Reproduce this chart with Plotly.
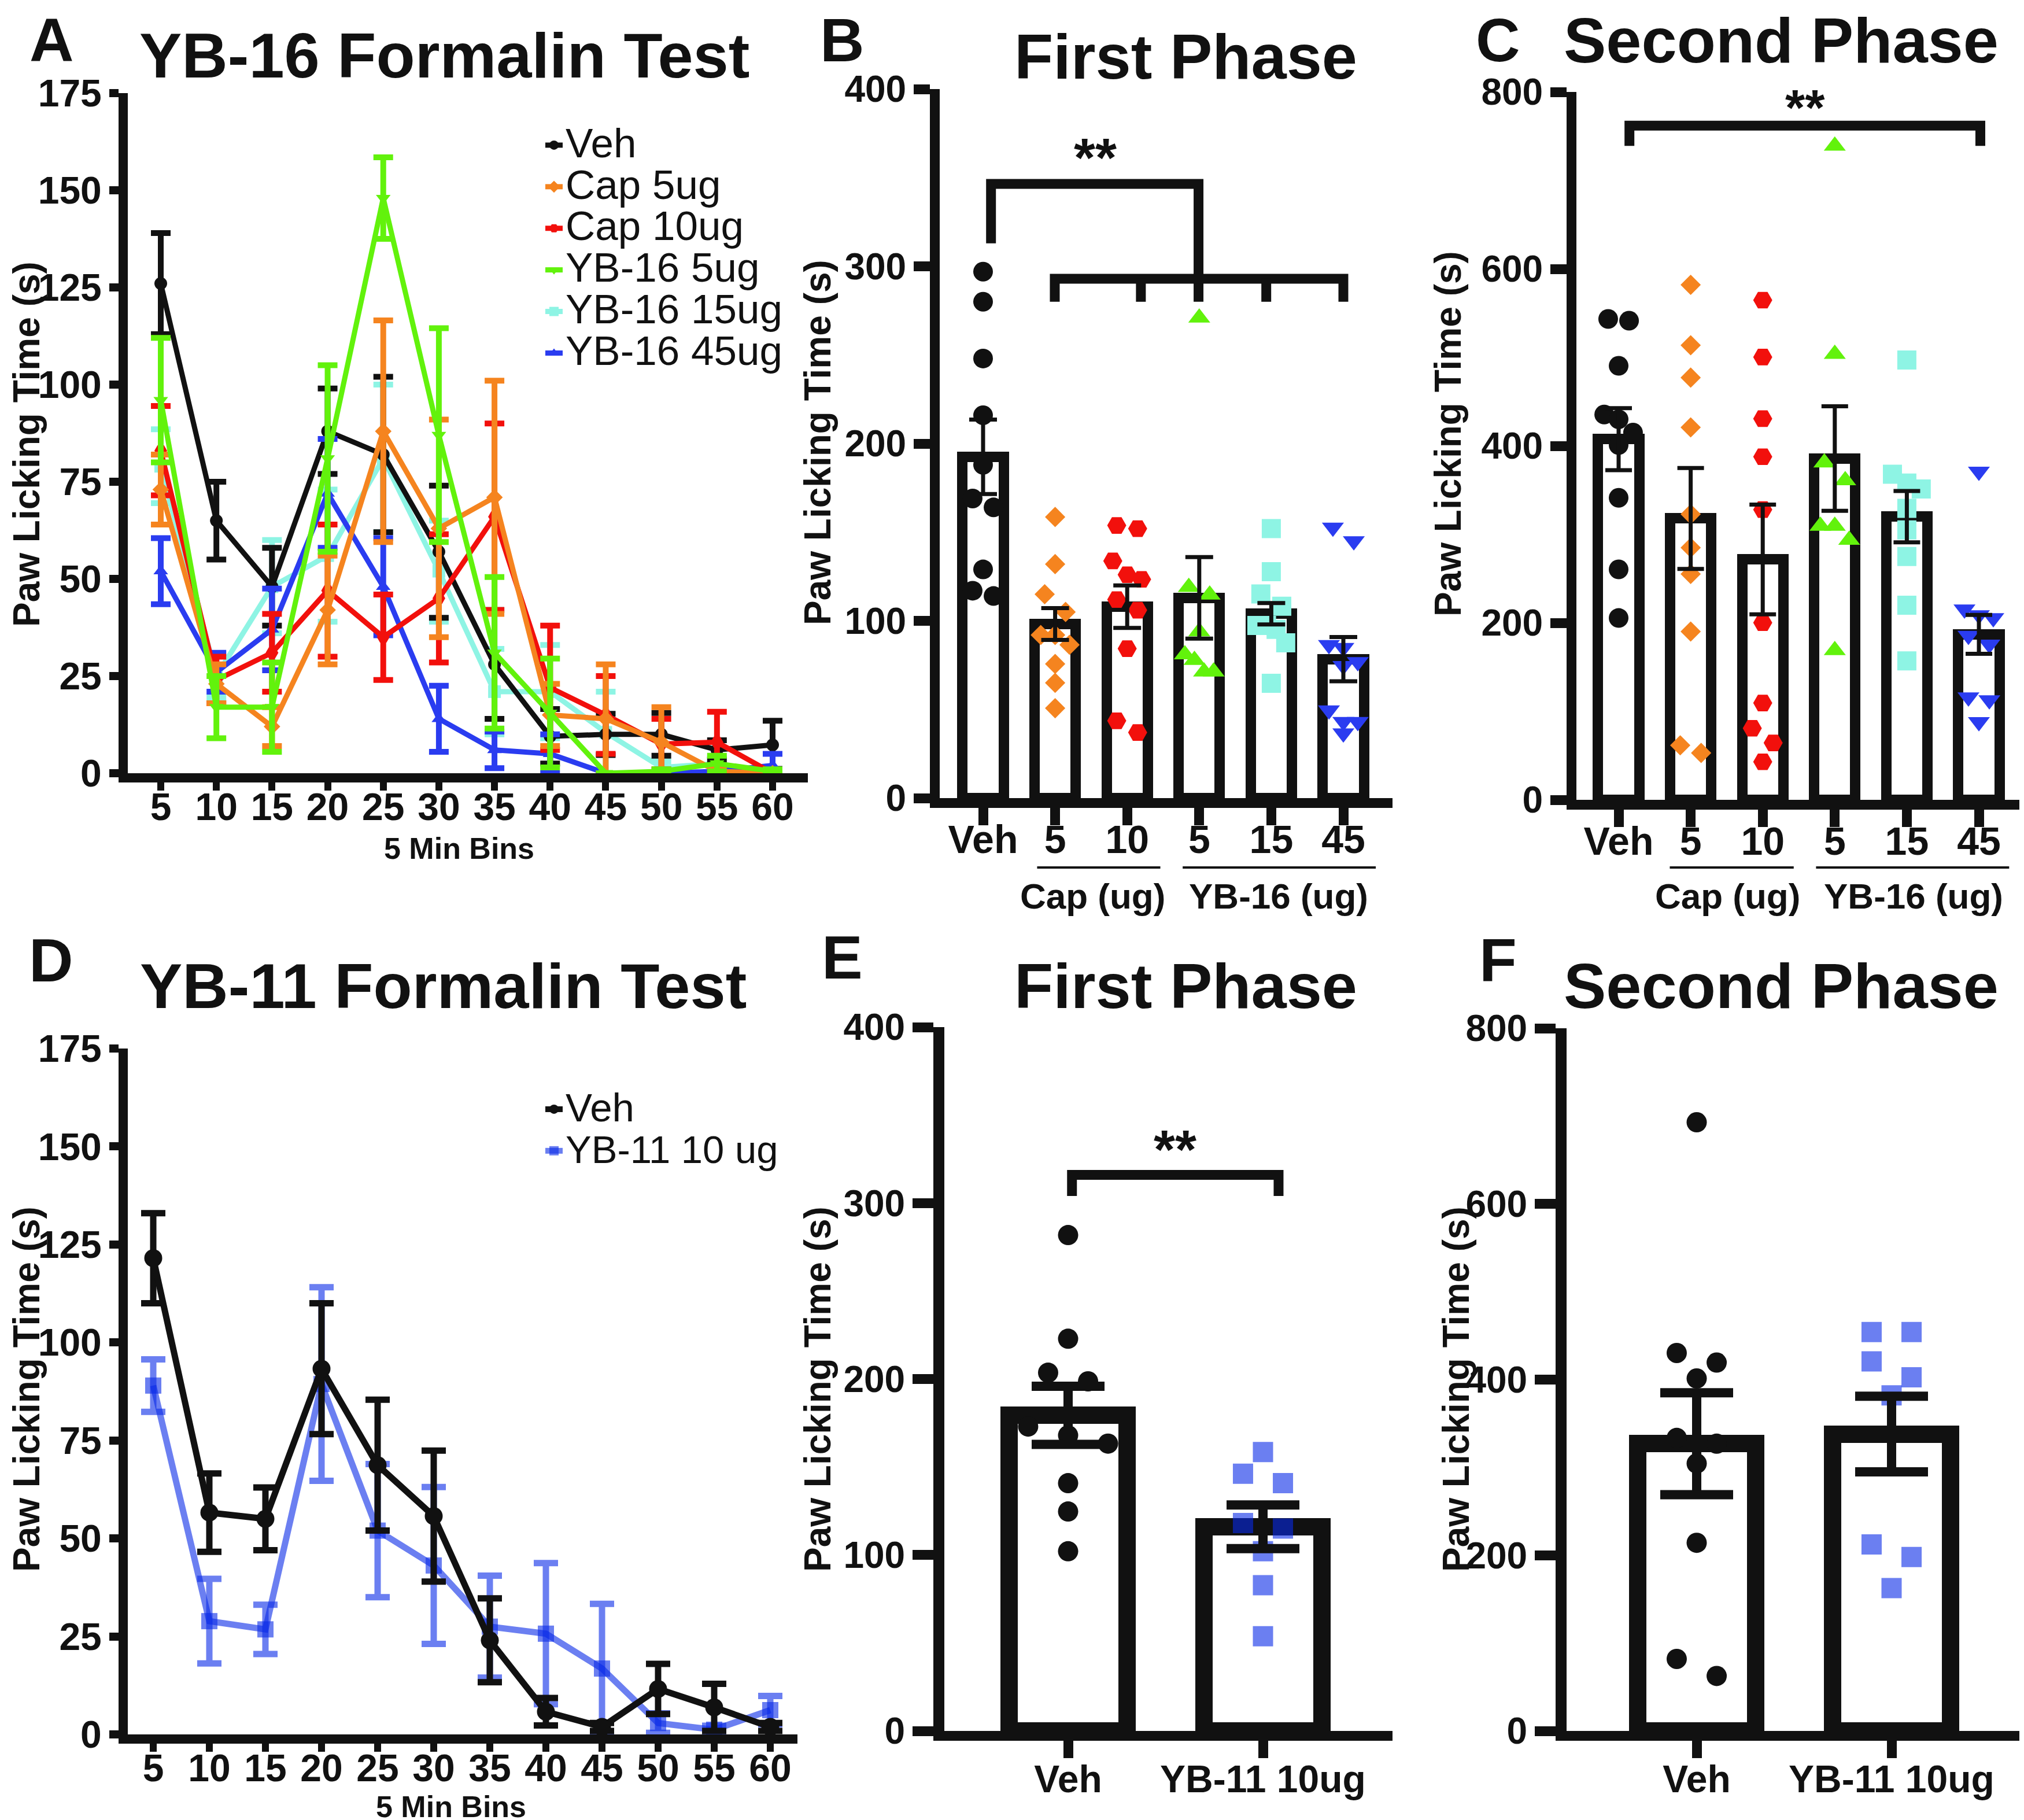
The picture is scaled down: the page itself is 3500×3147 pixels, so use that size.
import plotly.graph_objects as go

W, H = 3500, 3147
FONT = "Liberation Sans, Arial, Helvetica, sans-serif"
INK = "#111111"

# ---------------- data ----------------
A_BINS = [5, 10, 15, 20, 25, 30, 35, 40, 45, 50, 55, 60]
A_VEH_MEAN = [126, 65, 48, 88, 82, 57, 28, 9.5, 10, 10, 6, 7.3]
A_VEH_SEM = [13, 10, 10, 11, 20, 17, 14, 7, 5.3, 5.5, 2.5, 6.2]
A_CAP5_MEAN = [73, 23, 12, 42, 88, 63, 71, 15, 14, 8, 0.5, 0]
A_CAP5_SEM = [9, 5, 5, 14, 28.5, 28, 30, 8, 14, 9, 0.5, 0]
A_CAP10_MEAN = [83, 24, 31, 47, 35, 45, 66, 22, 15, 7.5, 8, 0]
A_CAP10_SEM = [11.5, 6, 10, 17, 11, 16.5, 24, 16, 10, 6.5, 7.8, 0]
A_YB5_MEAN = [96, 17, 17, 81, 148, 87, 31, 15.5, 0, 0.5, 2.5, 0.5]
A_YB5_SEM = [16, 8, 11.5, 24, 10.5, 27.5, 19.5, 14, 0, 0.5, 2, 0.5]
A_YB15_MEAN = [79, 25, 48, 56, 81, 52, 21, 21, 10.5, 1.5, 2.5, 0]
A_YB15_SEM = [9.5, 5.5, 12, 17, 19, 13, 11, 12, 10.5, 1.5, 1.5, 0]
A_YB45_MEAN = [52, 26, 37, 72, 48, 14, 6, 5, 0, 0, 0.5, 2]
A_YB45_SEM = [8.5, 5, 10.5, 14, 12.5, 8.5, 4.7, 5, 0, 0, 0.5, 3]

D_BINS = [5, 10, 15, 20, 25, 30, 35, 40, 45, 50, 55, 60]
D_VEH_MEAN = [121.5, 56.6, 55, 93.3, 68.7, 55.7, 24, 5.8, 1.9, 11.6, 6.9, 1.9]
D_VEH_SEM = [11.5, 10, 8, 16.7, 16.7, 16.7, 10.7, 3.5, 1, 6.4, 6, 1]
D_YB11_MEAN = [89, 28.9, 26.8, 89.4, 52, 43.1, 27.5, 25.7, 16.8, 2.9, 1.2, 6.2]
D_YB11_SEM = [6.7, 10.8, 6.3, 24.7, 17, 20, 13, 18, 16.5, 2.5, 1, 3.6]

B_TICKS = ["Veh", "5", "10", "5", "15", "45"]
B_VEH = [297, 280, 248, 216, 188, 169, 164, 129, 117, 114]
B_CAP5 = [158.6, 132, 115, 105, 92, 92, 86.5, 75.7, 65, 50.7]
B_CAP10 = [153.8, 152, 133.8, 126, 123.4, 112, 106, 84.3, 43.6, 37]
B_YB5 = [271, 119, 114.7, 94, 81, 77.8, 71.3, 71.3]
B_YB15 = [152, 127.7, 115.2, 108.2, 97.4, 97.4, 95.2, 87.6, 64.8]
B_YB45 = [152.7, 145, 86.5, 84.8, 76.8, 74.6, 49.6, 43.1, 43.1, 36.6]
B_MEAN = [192.5, 98.2, 108, 113, 104, 78.4]
B_SEM = [21, 9, 12, 23, 6, 12.5]

C_TICKS = ["Veh", "5", "10", "5", "15", "45"]
C_VEH = [543.5, 541.5, 490.5, 435.5, 430, 415, 401, 341.3, 260.5, 205.5]
C_CAP5 = [582, 513.7, 477.2, 420.9, 322.8, 285, 255.2, 190.2, 61.6, 53]
C_CAP10 = [564.7, 500.4, 430.8, 387.7, 328, 200.2, 109.4, 80.9, 64.3, 43]
C_YB5 = [739, 503.7, 381, 361, 309.5, 309.5, 293.6, 169]
C_YB15 = [497, 367.9, 358, 351.3, 329.4, 305, 275, 220, 157]
C_YB45 = [371, 215.4, 208.8, 205.5, 185.6, 175.6, 116, 112.7, 88]
C_MEAN = [407.6, 318, 271.7, 385.7, 320, 187]
C_SEM = [35, 57, 62, 59, 29, 22]

EF_TICKS = ["Veh", "YB-11 10ug"]
E_VEH = [281.8, 222.9, 203.6, 198.7, 173, 168, 163.3, 140.8, 124.7, 102.1]
E_YB11 = [158.5, 146.2, 140.8, 118.2, 115, 102.1, 82.8, 53.8]
E_MEAN = [179.4, 116]
E_SEM = [16.5, 12.4]
F_VEH = [693, 430.3, 419.4, 401.3, 333.6, 327, 304.5, 214.2, 82, 62.6]
F_YB11 = [454.2, 454.2, 420.7, 402.6, 382, 212.3, 198, 162.6]
F_MEAN = [327, 338]
F_SEM = [58, 43]

# ---------------- styling ----------------
COL_VEH = "#111111"
COL_CAP5 = "#f5841f"
COL_CAP10 = "#f2100c"
COL_YB5 = "#62f20c"
COL_YB15 = "#8ef4e4"
COL_YB45 = "#2a3cf0"
COL_YB11 = "rgba(8,42,232,0.6)"


def pxx(x):
    return x / W


def pxy(y):
    return 1 - y / H


def lin_range(p0, p1, va, pa, vb, pb):
    k = (vb - va) / (pb - pa)
    return [va + (p0 - pa) * k, va + (p1 - pa) * k]


def swarm(values, vthresh, step, maxhalf):
    order = sorted(range(len(values)), key=lambda i: -values[i])
    offs = [0.0] * len(values)
    cluster = []

    def flush(cl):
        n = len(cl)
        st = step if n <= 2 else min(step, 2 * maxhalf / (n - 1))
        for j, i in enumerate(cl):
            offs[i] = (j - (n - 1) / 2) * st

    for i in order:
        if cluster and values[cluster[0]] - values[i] > vthresh:
            flush(cluster)
            cluster = []
        cluster.append(i)
    if cluster:
        flush(cluster)
    return offs


def axis_common(lw, tl, tw, fs, standoff=0):
    return dict(showgrid=False, zeroline=False, showline=True, linecolor=INK,
                linewidth=lw, ticks="outside", tickcolor=INK, ticklen=tl,
                tickwidth=tw, automargin=False, ticklabelstandoff=standoff,
                tickfont=dict(family=FONT, size=fs, color=INK, weight="bold"))


fig = go.Figure()

# ---------------- Panel A ----------------
a_series = [
    ("YB-16 15ug", A_YB15_MEAN, A_YB15_SEM, COL_YB15, "square", 5),
    ("Veh", A_VEH_MEAN, A_VEH_SEM, COL_VEH, "circle", 1),
    ("YB-16 45ug", A_YB45_MEAN, A_YB45_SEM, COL_YB45, "triangle-up", 6),
    ("Cap 10ug", A_CAP10_MEAN, A_CAP10_SEM, COL_CAP10, "hexagon2", 3),
    ("Cap 5ug", A_CAP5_MEAN, A_CAP5_SEM, COL_CAP5, "diamond", 2),
    ("YB-16 5ug", A_YB5_MEAN, A_YB5_SEM, COL_YB5, "triangle-down", 4),
]
for name, m, s, col, sym, rank in a_series:
    fig.add_trace(go.Scatter(
        x=A_BINS, y=m, mode="lines+markers", xaxis="x", yaxis="y",
        name='<span style="font-size:71px">%s</span>' % name,
        legend="legend", legendrank=rank, cliponaxis=False,
        line=dict(color=col, width=9),
        marker=dict(symbol=sym, size=22, color=col),
        error_y=dict(type="data", array=s, color=col, thickness=10, width=17)))

# ---------------- Panel D ----------------
fig.add_trace(go.Scatter(
    x=D_BINS, y=D_YB11_MEAN, mode="lines+markers", xaxis="x4", yaxis="y4",
    name='<span style="font-size:67px">YB-11 10 ug</span>', legend="legend2",
    legendrank=2, cliponaxis=False,
    line=dict(color=COL_YB11, width=11),
    marker=dict(symbol="square", size=28, color=COL_YB11),
    error_y=dict(type="data", array=D_YB11_SEM, color=COL_YB11, thickness=11, width=21)))
fig.add_trace(go.Scatter(
    x=D_BINS, y=D_VEH_MEAN, mode="lines+markers", xaxis="x4", yaxis="y4",
    name='<span style="font-size:69px">Veh</span>', legend="legend2",
    legendrank=1, cliponaxis=False,
    line=dict(color=COL_VEH, width=11),
    marker=dict(symbol="circle", size=31, color=COL_VEH),
    error_y=dict(type="data", array=D_VEH_SEM, color=COL_VEH, thickness=11, width=21)))


# ---------------- bar + scatter panels ----------------
def bar_panel(xa, ya, means, sems, groups, bar_w, bar_lw, err_th, err_w,
              vthresh, step, maxhalf):
    cats = list(range(len(means)))
    fig.add_trace(go.Bar(x=cats, y=means, xaxis=xa, yaxis=ya, width=bar_w,
                         showlegend=False,
                         marker=dict(color="white", line=dict(color=INK, width=bar_lw))))
    for i, (vals, col, sym, size) in enumerate(groups):
        offs = swarm(vals, vthresh, step, maxhalf)
        fig.add_trace(go.Scatter(
            x=[i + o for o in offs], y=vals, mode="markers", xaxis=xa, yaxis=ya,
            showlegend=False, cliponaxis=False,
            marker=dict(symbol=sym, size=size, color=col, line=dict(width=0))))
    fig.add_trace(go.Scatter(
        x=cats, y=means, mode="markers", xaxis=xa, yaxis=ya, showlegend=False,
        marker=dict(size=1, color="rgba(0,0,0,0)"),
        error_y=dict(type="data", array=sems, color=INK, thickness=err_th, width=err_w)))


bar_panel("x2", "y2", B_MEAN, B_SEM, [
    (B_VEH, COL_VEH, "circle", 34), (B_CAP5, COL_CAP5, "diamond", 27),
    (B_CAP10, COL_CAP10, "hexagon2", 33), (B_YB5, COL_YB5, "triangle-up", 33),
    (B_YB15, COL_YB15, "square", 33), (B_YB45, COL_YB45, "triangle-down", 33)],
    0.57, 18, 7, 24, 10.5, 0.29, 0.2)
bar_panel("x3", "y3", C_MEAN, C_SEM, [
    (C_VEH, COL_VEH, "circle", 34), (C_CAP5, COL_CAP5, "diamond", 27),
    (C_CAP10, COL_CAP10, "hexagon2", 33), (C_YB5, COL_YB5, "triangle-up", 33),
    (C_YB15, COL_YB15, "square", 33), (C_YB45, COL_YB45, "triangle-down", 33)],
    0.57, 18, 7, 23, 21, 0.29, 0.2)
bar_panel("x5", "y5", E_MEAN, E_SEM, [
    (E_VEH, COL_VEH, "circle", 35), (E_YB11, COL_YB11, "square", 35)],
    0.605, 30, 16, 63, 11, 0.205, 0.21)
bar_panel("x6", "y6", F_MEAN, F_SEM, [
    (F_VEH, COL_VEH, "circle", 35), (F_YB11, COL_YB11, "square", 35)],
    0.605, 30, 16, 63, 21.6, 0.205, 0.21)

# ---------------- axes ----------------
layout = dict(template="none", width=W, height=H, margin=dict(l=0, r=0, t=0, b=0),
              paper_bgcolor="white", plot_bgcolor="white", showlegend=True,
              font=dict(family=FONT, color=INK), bargap=0)

# A
layout["xaxis"] = dict(domain=[pxx(213), pxx(1389)],
                       range=lin_range(213, 1389, 5, 270, 60, 1328), anchor="y",
                       tickmode="array", tickvals=A_BINS,
                       **axis_common(16, 14, 12, 66, -28))
layout["yaxis"] = dict(domain=[pxy(1329), pxy(153)], range=[0, 175], anchor="x",
                       tickmode="linear", tick0=0, dtick=25,
                       **axis_common(16, 16, 14, 66))
# D
layout["xaxis4"] = dict(domain=[pxx(213), pxx(1371)],
                        range=lin_range(213, 1371, 5, 257, 60, 1324), anchor="y4",
                        tickmode="array", tickvals=D_BINS,
                        **axis_common(16, 14, 12, 66, -28))
layout["yaxis4"] = dict(domain=[pxy(2991), pxy(1805)], range=[0, 175], anchor="x4",
                        tickmode="linear", tick0=0, dtick=25,
                        **axis_common(16, 16, 14, 66))
# B
layout["xaxis2"] = dict(domain=[pxx(1617), pxx(2400)],
                        range=lin_range(1617, 2400, 0, 1692, 5, 2315), anchor="y2",
                        tickmode="array", tickvals=list(range(6)), ticktext=B_TICKS,
                        **axis_common(17, 30, 17, 68, -34))
layout["yaxis2"] = dict(domain=[pxy(1372), pxy(146)], range=[0, 400], anchor="x2",
                        tickmode="linear", tick0=0, dtick=100,
                        **axis_common(17, 28, 17, 64))
# C
layout["xaxis3"] = dict(domain=[pxx(2718), pxx(3498)],
                        range=lin_range(2718, 3498, 0, 2791, 5, 3414), anchor="y3",
                        tickmode="array", tickvals=list(range(6)), ticktext=C_TICKS,
                        **axis_common(17, 30, 17, 68, -34))
layout["yaxis3"] = dict(domain=[pxy(1375), pxy(151)], range=[0, 800], anchor="x3",
                        tickmode="linear", tick0=0, dtick=200,
                        **axis_common(17, 28, 17, 64))
# E
layout["xaxis5"] = dict(domain=[pxx(1625), pxx(2400)],
                        range=lin_range(1625, 2400, 0, 1839, 1, 2176), anchor="y5",
                        tickmode="array", tickvals=[0, 1], ticktext=EF_TICKS,
                        **axis_common(17, 30, 17, 66, -20))
layout["yaxis5"] = dict(domain=[pxy(2985), pxy(1768)], range=[0, 400], anchor="x5",
                        tickmode="linear", tick0=0, dtick=100,
                        **axis_common(19, 36, 17, 64))
# F
layout["xaxis6"] = dict(domain=[pxx(2701), pxx(3487)],
                        range=lin_range(2701, 3487, 0, 2926, 1, 3263), anchor="y6",
                        tickmode="array", tickvals=[0, 1], ticktext=EF_TICKS,
                        **axis_common(17, 30, 17, 66, -20))
layout["yaxis6"] = dict(domain=[pxy(2985), pxy(1770)], range=[0, 800], anchor="x6",
                        tickmode="linear", tick0=0, dtick=200,
                        **axis_common(19, 36, 17, 64))

layout["legend"] = dict(x=pxx(930), y=pxy(202), xanchor="left", yanchor="top",
                        font=dict(family=FONT, size=53, color=INK),
                        bgcolor="rgba(0,0,0,0)", tracegroupgap=0)
layout["legend2"] = dict(x=pxx(930), y=pxy(1869), xanchor="left", yanchor="top",
                         font=dict(family=FONT, size=53, color=INK),
                         bgcolor="rgba(0,0,0,0)", tracegroupgap=0)

# ---------------- text ----------------
ann = []


def text(t, x, y, size, xref="paper", yref="paper", bold=True, angle=0,
         yanchor="middle"):
    ann.append(dict(text=t, x=x, y=y, xref=xref, yref=yref, showarrow=False,
                    xanchor="center", yanchor=yanchor, textangle=angle,
                    font=dict(family=FONT, size=size, color=INK,
                              weight="bold" if bold else "normal")))


TITLES = [("YB-16 Formalin Test", 760, 88), ("First Phase", 2042, 89),
          ("Second Phase", 3072, 62), ("YB-11 Formalin Test", 758, 1696),
          ("First Phase", 2042, 1696), ("Second Phase", 3072, 1696)]
for t, x, y in TITLES:
    text(t, pxx(x), pxy(y), 110)
# panel letters: top row hugs the top edge
for t, x in [("A", 81), ("B", 1448), ("C", 2582)]:
    text(t, pxx(x), 1.0, 106, yanchor="top")
for t, x, y in [("D", 80, 1652), ("E", 1448, 1647), ("F", 2582, 1652)]:
    text(t, pxx(x), pxy(y), 106)

YTITLE = "Paw Licking Time (s)"
for x, y in [(38, 760), (1406, 757), (2496, 742), (38, 2394), (1406, 2394), (2510, 2394)]:
    text(YTITLE, pxx(x), pxy(y), 64, angle=-90)
text("5 Min Bins", pxx(786), pxy(1459), 52)
text("5 Min Bins", pxx(772), 0.0, 52, yanchor="bottom")

# group labels under categorical axes
shapes = []
for xa, cap_rng, yb_rng, cap_c, yb_c in [("x2", (0.75, 2.46), (2.77, 5.45), 1.52, 4.1),
                                          ("x3", (0.71, 2.43), (2.74, 5.42), 1.51, 4.09)]:
    for r in (cap_rng, yb_rng):
        shapes.append(dict(type="line", xref=xa, yref="paper", x0=r[0], x1=r[1],
                           y0=pxy(1492), y1=pxy(1492), line=dict(color=INK, width=4)))
    text("Cap (ug)", cap_c, pxy(1541), 62, xref=xa)
    text("YB-16 (ug)", yb_c, pxy(1541), 62, xref=xa)

# significance brackets
BR_B = dict(left=0.11, drop=2.99, lo=0.995, hi=5.0, mids=[2.19, 3.93],
            ytop=346.5, yleft=313, ymid=293, ybot=280)
p = "M %g,%g V %g H %g V %g" % (BR_B["left"], BR_B["yleft"], BR_B["ytop"], BR_B["drop"], BR_B["ybot"])
shapes.append(dict(type="path", xref="x2", yref="y2", path=p, line=dict(color=INK, width=17)))
p = "M %g,%g V %g H %g V %g" % (BR_B["lo"], BR_B["ybot"], BR_B["ymid"], BR_B["hi"], BR_B["ybot"])
shapes.append(dict(type="path", xref="x2", yref="y2", path=p, line=dict(color=INK, width=17)))
for mx in BR_B["mids"]:
    shapes.append(dict(type="line", xref="x2", yref="y2", x0=mx, x1=mx,
                       y0=BR_B["ymid"], y1=BR_B["ybot"], line=dict(color=INK, width=17)))
text("**", 1.56, 361.5, 95, xref="x2", yref="y2")

BR_C = dict(lo=0.15, hi=5.02, ytop=762, ybot=739)
p = "M %g,%g V %g H %g V %g" % (BR_C["lo"], BR_C["ybot"], BR_C["ytop"], BR_C["hi"], BR_C["ybot"])
shapes.append(dict(type="path", xref="x3", yref="y3", path=p, line=dict(color=INK, width=17)))
text("**", 2.59, 783, 88, xref="x3", yref="y3")

BR_E = dict(lo=0.02, hi=1.08, ytop=316, ybot=304)
p = "M %g,%g V %g H %g V %g" % (BR_E["lo"], BR_E["ybot"], BR_E["ytop"], BR_E["hi"], BR_E["ybot"])
shapes.append(dict(type="path", xref="x5", yref="y5", path=p, line=dict(color=INK, width=17)))
text("**", 0.55, 330.5, 95, xref="x5", yref="y5")

layout["annotations"] = ann
layout["shapes"] = shapes
fig.update_layout(**layout)
fig.write_html("out.html")
